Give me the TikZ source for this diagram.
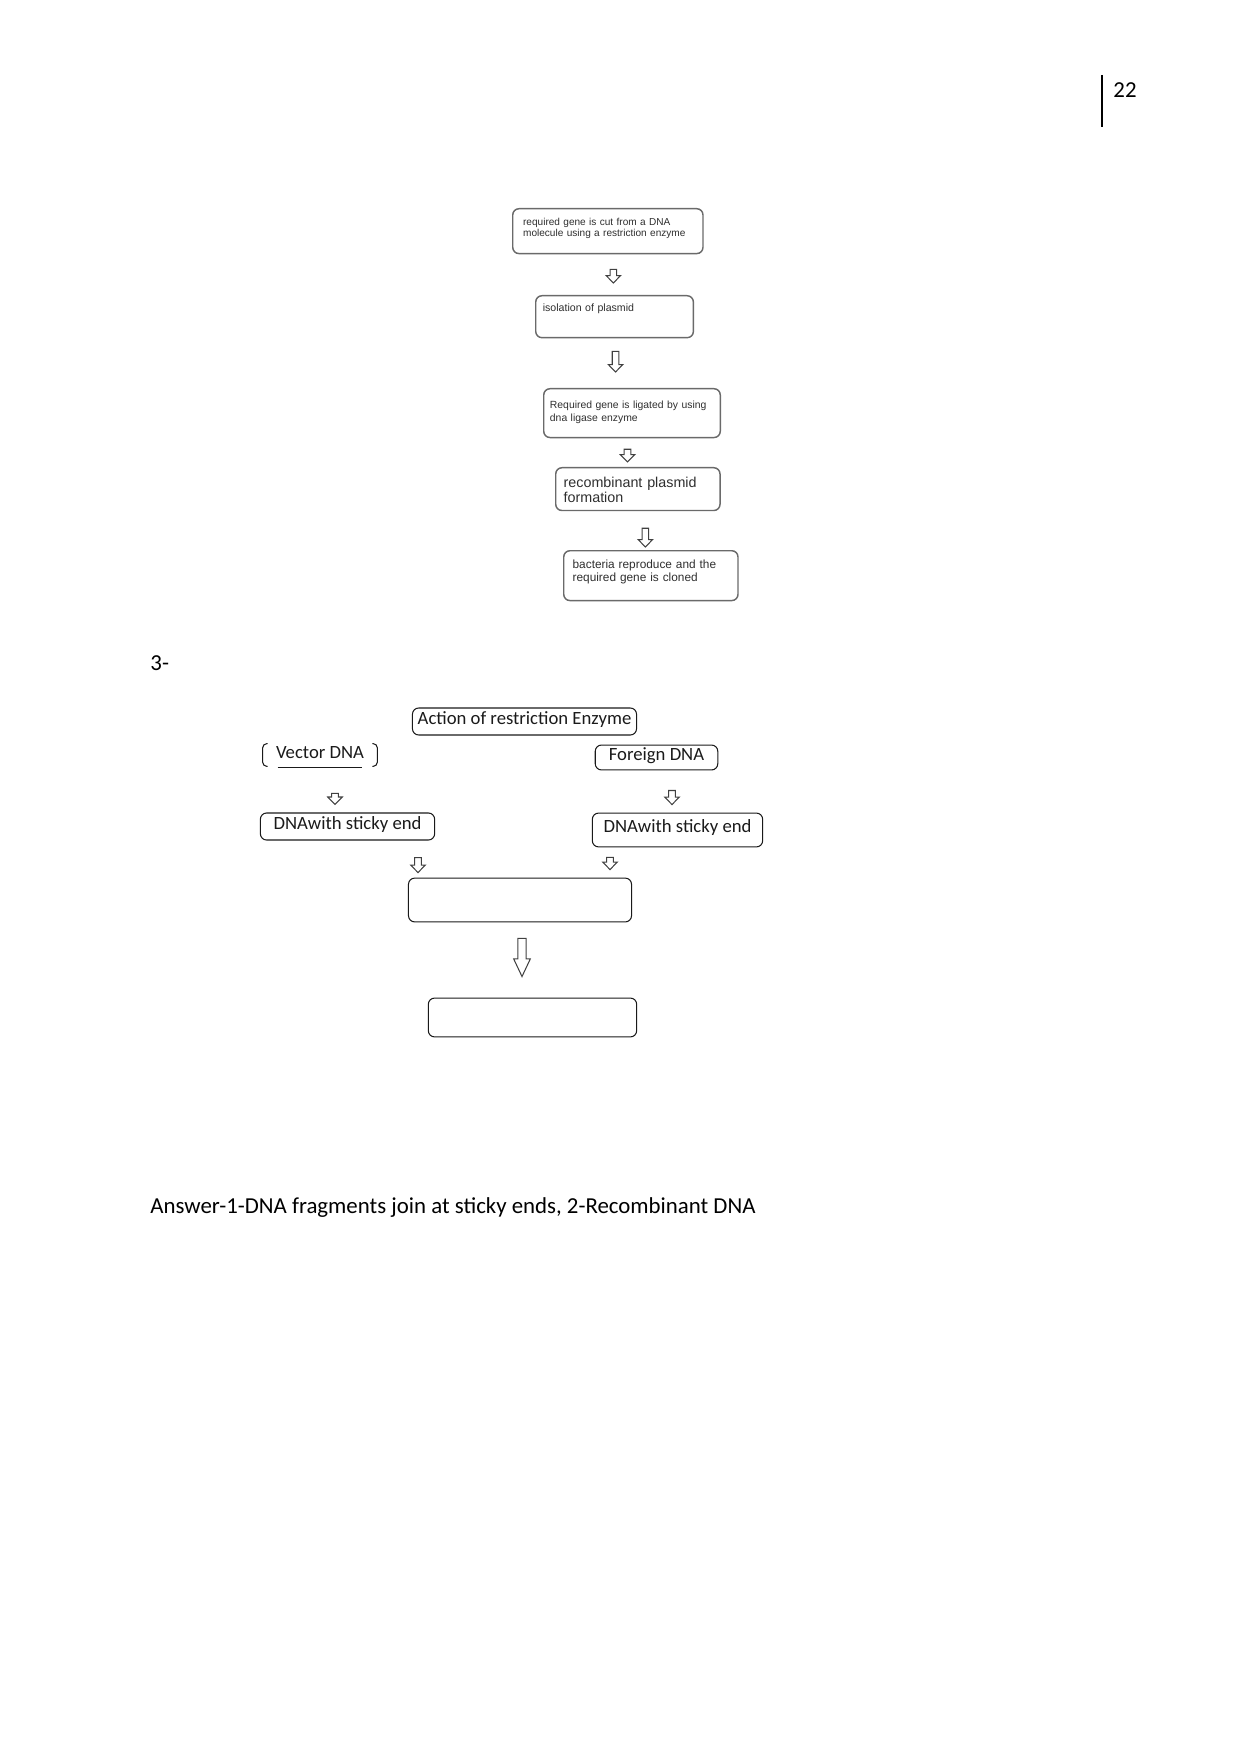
\documentclass[tikz,border=0pt]{standalone}
\usepackage{fontspec}
\setmainfont{Carlito}
\newfontfamily\arialfont{Liberation Sans}
\usepackage{tikz}
\usetikzlibrary{calc}
\definecolor{flowInk}{HTML}{2E2E2E}
\definecolor{flowLine}{HTML}{6A6A6A}
\definecolor{qInk}{HTML}{1A1A1A}
\tikzset{
  % Grey step box (first flow chart), text at top left
  stepbox/.style={rectangle,rounded corners=3pt,anchor=north west,
    draw=flowLine,line width=0.7pt,align=left,inner ysep=0pt,
    text=flowInk},
  % Box of question 3
  qbox/.style={rectangle,rounded corners=3pt,draw=qInk,line width=0.5pt,
    inner sep=0pt,font=\fontsize{9}{10}\selectfont,text=qInk,
    text height=6pt,text depth=3.5pt},
  % Page text
  pagetxt/.style={inner sep=0pt,font=\fontsize{11}{13}\selectfont},
  % Hollow block arrows
  hollowarr/.style n args={3}{draw=black!75,line width=0.5pt,line join=miter,
    to path={let \p1=(\tikztostart), \p2=(\tikztotarget) in
      (\x1-#1,\y1) -- (\x1+#1,\y1) -- (\x1+#1,\y2+#3) -- (\x1+#2,\y2+#3)
      -- (\x1,\y2) -- (\x1-#2,\y2+#3) -- (\x1-#1,\y2+#3) -- cycle}},
  arrsm/.style={hollowarr={1.6pt}{3.5pt}{3.6pt}},
  arrbig/.style={hollowarr={2pt}{4pt}{8.5pt}},
}

\begin{document}
\begin{tikzpicture}[x=0.016922cm,y=-0.016922cm]
  \useasboundingbox (0,0) rectangle (1241,1754);

  % page number
  \draw[line width=0.6pt] (1102,75) -- (1102,127);
  \node[pagetxt,anchor=west] (pagenum) at (1113,90) {22};

  % first flow chart
  \node[stepbox,text width=81.6pt,inner xsep=5pt,text height=8.2pt,
    text depth=13.4pt,font=\arialfont\fontsize{4.85}{5.3}\selectfont] (cutgene)
    at (512,208) {required gene is cut from a DNA\\
    molecule using a restriction enzyme};
  \node[stepbox,text width=69.1pt,inner xsep=3.4pt,text height=7.7pt,
    text depth=12.5pt,font=\arialfont\fontsize{5.1}{5.3}\selectfont] (isolate)
    at (535,295) {isolation of plasmid};
  \node[stepbox,text width=79pt,inner xsep=3pt,text height=9.6pt,
    text depth=13.9pt,font=\arialfont\fontsize{5}{6.2}\selectfont] (ligate)
    at (543,388) {Required gene is ligated by using\\
    dna ligase enzyme};
  \node[stepbox,text width=71.5pt,inner xsep=3.8pt,text height=9.6pt,
    text depth=11pt,font=\arialfont\fontsize{6.9}{7.2}\selectfont] (recomb)
    at (555,467) {recombinant plasmid\\formation};
  \node[stepbox,text width=75.3pt,inner xsep=4.3pt,text height=8.6pt,
    text depth=15.4pt,font=\arialfont\fontsize{5.7}{6.2}\selectfont] (clone)
    at (563,550) {bacteria reproduce and the\\required gene is cloned};

  \draw[arrsm] ($(cutgene.south)+(5.5,15)$) to ($(isolate.north)+(0,-12)$);
  \draw[arrsm] ($(isolate.south)+(1,13)$) to ($(ligate.north)+(0,-16)$);
  \draw[arrsm] ($(ligate.south)+(-4.5,11)$) to ($(recomb.north)+(0,-5)$);
  \draw[arrsm] ($(recomb.south)+(7.5,17)$) to ($(clone.north)+(0,-3)$);

  % question 3
  \node[pagetxt,anchor=west] (qnum) at (150,663) {3-};

  \node[qbox,minimum width=107.9pt,minimum height=13pt] (action)
    at (524.5,721.5) {Action of restriction Enzyme};
  \node[qbox,draw=none,minimum width=54.7pt,minimum height=8.6pt] (vector)
    at (320,756) {Vector DNA};
  \draw[qInk,line width=0.5pt,rounded corners=2pt]
    ($(vector.north west)+(5,-2)$) -| (vector.south west) -- ++(5,0);
  \draw[qInk,line width=0.5pt,rounded corners=2pt]
    ($(vector.north east)+(-5,-2)$) -| (vector.south east) -- ++(-5,0);
  \draw[qInk,line width=0.5pt]
    ($(vector.south west)+(15,1)$) -- ($(vector.south east)+(-15,1)$);
  \node[qbox,minimum width=59pt,minimum height=12pt] (foreign)
    at (656.5,757.5) {Foreign DNA};
  \node[qbox,minimum width=83.9pt,minimum height=13pt] (stickyv)
    at (347.5,826.5) {DNAwith sticky end};
  \node[qbox,minimum width=82pt,minimum height=16.3pt] (stickyf)
    at (677.5,830) {DNAwith sticky end};
  \node[qbox,minimum width=107.4pt,minimum height=21.1pt] (joined)
    at (520,900) {};
  \node[qbox,minimum width=100.3pt,minimum height=18.7pt] (product)
    at (532.5,1017.5) {};

  \draw[arrsm] ($(vector.south)+(15,27)$) to ($(stickyv.north)+(0,-8)$);
  \draw[arrsm] ($(foreign.south)+(15.5,20)$) to ($(stickyf.north)+(0,-8)$);
  \draw[arrsm] ($(stickyv.south)+(70.5,17)$) to ($(joined.north)+(0,-5)$);
  \draw[arrsm] ($(stickyf.south)+(-67.5,10)$) to ($(joined.north)+(0,-8)$);
  \draw[arrbig] ($(joined.south)+(2,16)$) to ($(product.north)+(0,-21)$);

  % answer line
  \node[pagetxt,anchor=west] (answer) at (150,1208)
    {Answer-1-DNA fragments join at sticky ends, 2-Recombinant DNA};
\end{tikzpicture}
\end{document}
